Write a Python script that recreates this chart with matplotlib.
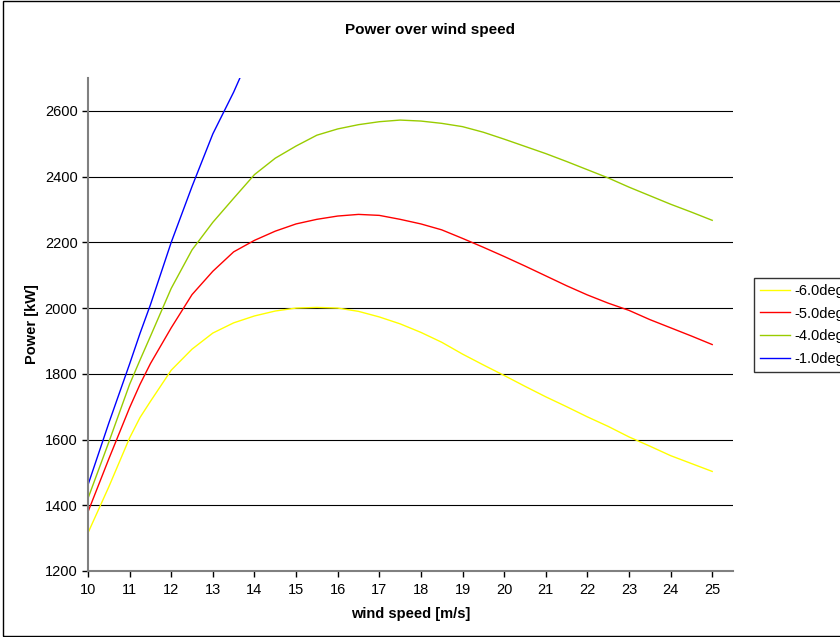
import matplotlib
matplotlib.use("Agg")
import matplotlib.pyplot as plt
from matplotlib.patches import Rectangle

plt.rcParams['font.family'] = ['Liberation Sans', 'DejaVu Sans']

# wind speed [m/s]
wind = [10.0, 10.5, 11.0, 11.25, 11.5, 12.0, 12.5, 13.0, 13.5, 14.0, 14.5, 15.0,
        15.5, 16.0, 16.5, 17.0, 17.5, 18.0, 18.5, 19.0, 19.5, 20.0, 20.5, 21.0,
        21.5, 22.0, 22.5, 23.0, 23.5, 24.0, 24.5, 25.0]

# power [kW] per pitch angle
p_m6 = [1316, 1456, 1605, 1667, 1716, 1811, 1875, 1924, 1955, 1976, 1991, 2000,
        2002, 2000, 1990, 1973, 1952, 1926, 1896, 1860, 1827, 1795, 1762, 1730,
        1700, 1669, 1640, 1608, 1580, 1551, 1527, 1503]
p_m5 = [1380, 1541, 1697, 1768, 1831, 1940, 2041, 2112, 2171, 2206, 2234, 2256,
        2270, 2280, 2285, 2282, 2270, 2256, 2238, 2212, 2185, 2157, 2128, 2098,
        2068, 2040, 2015, 1993, 1965, 1940, 1915, 1889]
p_m4 = [1421, 1592, 1768, 1842, 1914, 2060, 2177, 2261, 2334, 2406, 2456, 2493,
        2526, 2545, 2558, 2567, 2572, 2569, 2562, 2552, 2535, 2514, 2492, 2470,
        2446, 2421, 2396, 2368, 2342, 2316, 2292, 2267]
wind_m1 = [10.0, 10.5, 11.0, 11.25, 11.5, 12.0, 12.5, 12.75, 13.0, 13.5, 14.0]
p_m1 = [1462, 1650, 1830, 1923, 2010, 2200, 2370, 2450, 2530, 2657, 2800]

labels = ["-6.0deg", "-5.0deg", "-4.0deg", "-1.0deg"]
colors = ["#FFFF00", "#FF0000", "#99CC00", "#0000FF"]

fig = plt.figure(figsize=(8.4, 6.37), dpi=100)
ax = fig.add_axes([88 / 840, 1 - 571 / 637, (733 - 88) / 840, (571 - 78) / 637])

# outer chart border (right side runs off the image)
fig.patches.append(Rectangle((0.003, 0.002), 1.2, 0.996, transform=fig.transFigure,
                             fill=False, edgecolor="black", linewidth=1.0))

series = [(wind, p_m6), (wind, p_m5), (wind, p_m4), (wind_m1, p_m1)]
handles = []
for (xs, ys), lab, col in zip(series, labels, colors):
    h, = ax.plot(xs, ys, color=col, linewidth=1.0, label=lab)
    handles.append(h)

ax.set_xlim(10, 25.5)
ax.set_ylim(1200, 2700)
ax.set_xticks(range(10, 26))
ax.set_yticks(range(1200, 2601, 200))
ax.yaxis.grid(True, color="black", linewidth=0.8)
ax.set_axisbelow(True)

for s in ["top", "right"]:
    ax.spines[s].set_visible(False)
for s in ["left", "bottom"]:
    ax.spines[s].set_color("#808080")
    ax.spines[s].set_linewidth(1.5)
ax.tick_params(direction="out", length=4, width=1, labelsize=10.5, colors="black")
ax.tick_params(axis="x", pad=5)

ax.set_xlabel("wind speed [m/s]", fontsize=10.5, fontweight="bold", labelpad=7)
ax.set_ylabel("Power [kW]", fontsize=10.5, fontweight="bold", labelpad=4)
fig.text(430 / 840, 1 - 30 / 637, "Power over wind speed", ha="center", va="center",
         fontsize=11, fontweight="bold")

fig.legend(handles=handles, loc="upper left", bbox_to_anchor=(754 / 840, 1 - 278 / 637),
           fontsize=10.5, frameon=True, fancybox=False, edgecolor="black",
           borderaxespad=0, handlelength=2.1, handletextpad=0.3,
           labelspacing=0.6, borderpad=0.4)

fig.savefig("out.png", dpi=100)
